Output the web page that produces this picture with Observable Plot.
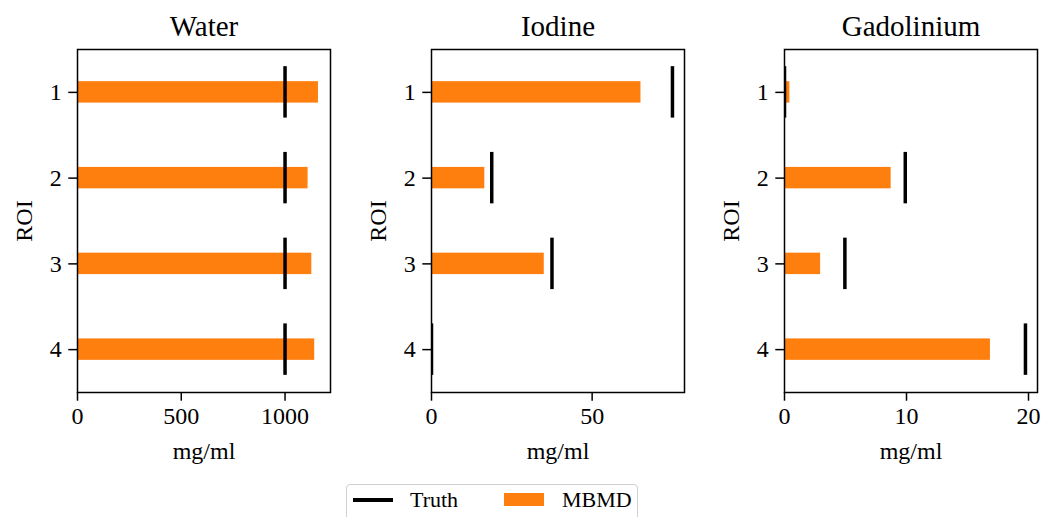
<!DOCTYPE html>
<html><head><meta charset="utf-8">
<script src="https://cdn.jsdelivr.net/npm/d3@7"></script>
<script src="https://cdn.jsdelivr.net/npm/@observablehq/plot@0.6"></script>
<style>
body{margin:0;background:#fff;}
#wrap{position:relative;width:1049px;height:517px;overflow:hidden;font-family:"Liberation Serif",serif;background:#fff;}
.panel{position:absolute;top:0;}
#legend{position:absolute;left:346px;top:484px;width:292px;height:44px;border:1.5px solid #d0d0d0;border-radius:4px;box-sizing:border-box;background:#fff;}
.item{position:absolute;top:4px;font-size:22px;line-height:22px;color:#000;}
.sw{position:absolute;}
</style></head><body><div id="wrap"><div id="legend"></div></div>
<script>
const rois = [1, 2, 3, 4];
const panelTitles = ["Water", "Iodine", "Gadolinium"];
const waterMBMD = [1161, 1111, 1129, 1143];
const waterTruth = [1000, 1000, 1000, 1000];
const iodineMBMD = [65.2, 16.6, 35.1, 0];
const iodineTruth = [75, 18.75, 37.5, 0];
const gadMBMD = [0.44, 8.74, 2.96, 16.88];
const gadTruth = [0, 9.9, 4.95, 19.75];
const waterTicks = [0, 500, 1000];
const iodineTicks = [0, 50];
const gadTicks = [0, 10, 20];
const seriesNames = ["Truth", "MBMD"];
const seriesColors = ["#000000", "#ff7f0e"];
const xLabel = "mg/ml";
const yLabel = "ROI";

function panel(title, mbmd, truth, ticks) {
  const rows = rois.map((r, i) => ({roi: r, mbmd: mbmd[i], truth: truth[i]}));
  const xmax = d3.max([...mbmd, ...truth]) * 1.05;
  return Plot.plot({
    width: 350, height: 470,
    marginLeft: 77, marginRight: 20, marginTop: 49, marginBottom: 78,
    style: {fontFamily: "'Liberation Serif', serif", fontSize: "24px", background: "white", color: "black", overflow: "visible"},
    x: {domain: [0, xmax]},
    y: {domain: [4.5, 0.5]},
    marks: [
      Plot.rect(rows, {x1: 0, x2: "mbmd", y1: d => d.roi - 0.125, y2: d => d.roi + 0.125, fill: seriesColors[1]}),
      Plot.ruleX(rows, {x: "truth", y1: d => d.roi - 0.3, y2: d => d.roi + 0.3, stroke: seriesColors[0], strokeWidth: 3.5, clip: true}),
      Plot.frame({stroke: "black", strokeWidth: 1.5}),
      Plot.axisX({ticks, tickSize: 8.7, tickPadding: 6, strokeWidth: 1.5, tickFormat: "d",
        label: xLabel, labelAnchor: "center", labelArrow: "none", labelOffset: 66}),
      Plot.axisY({ticks: rois, tickSize: 8.7, tickPadding: 7, strokeWidth: 1.5, tickFormat: "d",
        label: yLabel, labelAnchor: "center", labelArrow: "none", labelOffset: 63}),
      Plot.text([title], {text: d => d, frameAnchor: "top", lineAnchor: "bottom", dy: -14, fontSize: 29})
    ]
  });
}

const specs = [
  [panelTitles[0], waterMBMD, waterTruth, waterTicks, 0],
  [panelTitles[1], iodineMBMD, iodineTruth, iodineTicks, 353.5],
  [panelTitles[2], gadMBMD, gadTruth, gadTicks, 706.5]
];
const wrap = document.getElementById("wrap");
for (const [t, m, tr, tk, left] of specs) {
  const svg = panel(t, m, tr, tk);
  svg.classList.add("panel");
  svg.style.left = left + "px";
  wrap.appendChild(svg);
}

// legend
const leg = document.getElementById("legend");
const legX = [[6, 63], [157, 215]];
seriesNames.forEach((name, i) => {
  const sw = document.createElement("div");
  sw.className = "sw";
  if (i === 0) {
    Object.assign(sw.style, {left: legX[i][0] + "px", top: "13px", width: "40px", height: "3.5px", background: seriesColors[i]});
  } else {
    Object.assign(sw.style, {left: legX[i][0] + "px", top: "8px", width: "40px", height: "13px", background: seriesColors[i]});
  }
  leg.appendChild(sw);
  const tx = document.createElement("div");
  tx.className = "item";
  tx.style.left = legX[i][1] + "px";
  tx.textContent = name;
  leg.appendChild(tx);
});
</script></body></html>
